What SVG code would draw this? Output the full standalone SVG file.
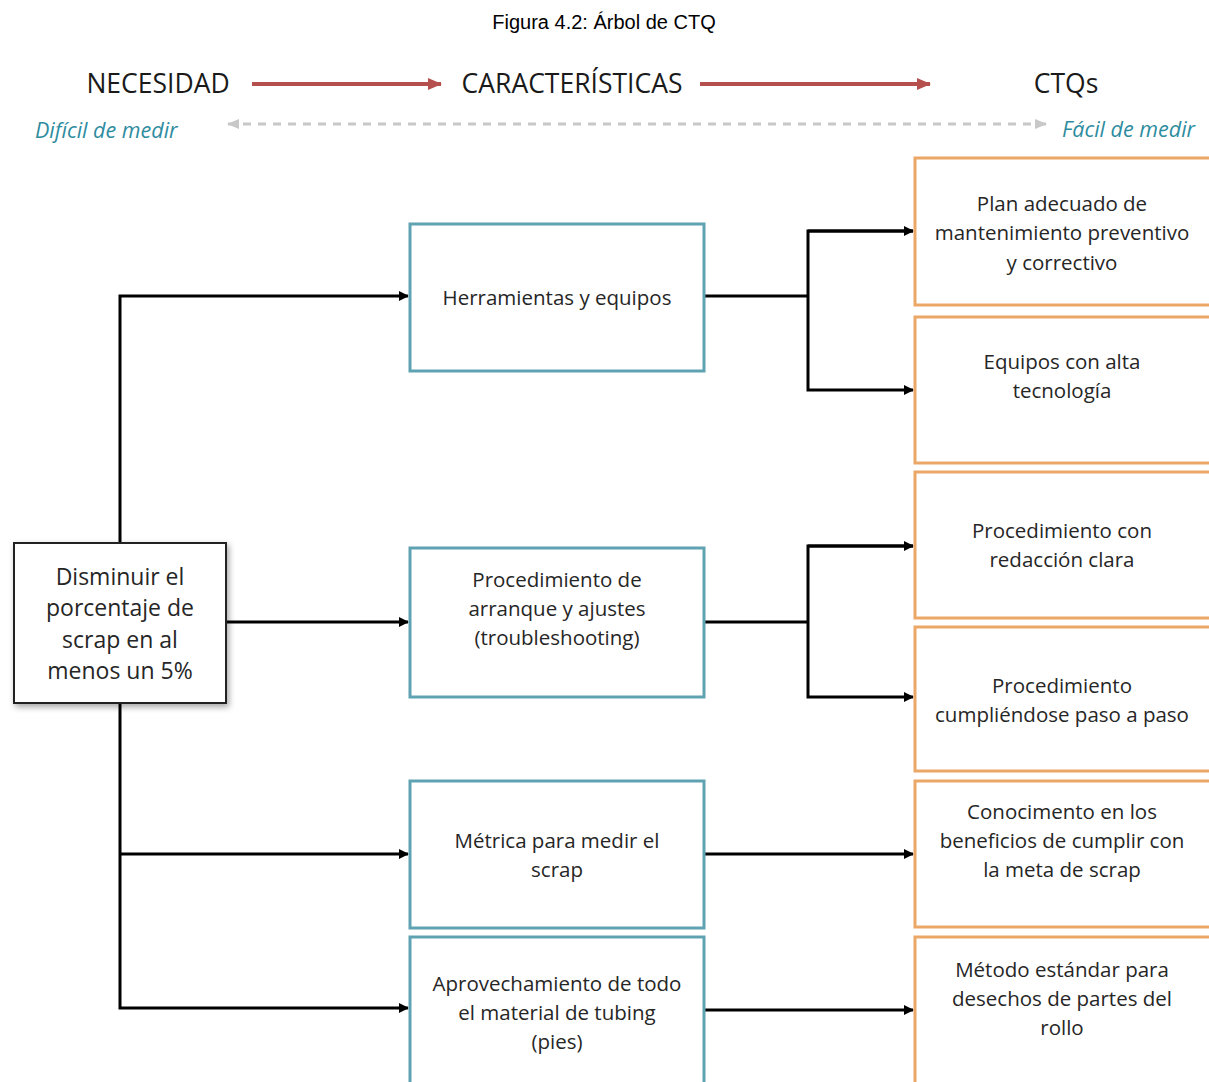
<svg xmlns="http://www.w3.org/2000/svg" width="1209" height="1082" viewBox="0 0 1209 1082">
<style>
.t{font-family:"Open Sans","Noto Sans",sans-serif;font-size:20.5px;fill:#262626;text-anchor:middle}
.big{font-size:23px}
.hd{font-family:"Open Sans","Noto Sans",sans-serif;font-size:26.5px;fill:#1a1a1a;text-anchor:middle}
.it{font-family:"Open Sans","Noto Sans",sans-serif;font-size:21.5px;font-style:italic;fill:#2e8ca0}
.mid{fill:#fff;stroke:#5fa3b3;stroke-width:3}
.ctq{fill:#fff;stroke:#eba766;stroke-width:3}
.ln{fill:none;stroke:#000;stroke-width:3}
</style>
<defs>
<marker id="ah" markerWidth="10" markerHeight="10" refX="9" refY="5" orient="auto" markerUnits="userSpaceOnUse">
<path d="M0,0 L10,5 L0,10 z" fill="#000"/>
</marker>
<marker id="rh" markerWidth="14" markerHeight="14" refX="13" refY="7" orient="auto" markerUnits="userSpaceOnUse">
<path d="M0,1 L14,7 L0,13 z" fill="#b5504f"/>
</marker>
<marker id="gh" markerWidth="12" markerHeight="12" refX="11" refY="6" orient="auto-start-reverse" markerUnits="userSpaceOnUse">
<path d="M0,1 L12,6 L0,11 z" fill="#c8c8c8"/>
</marker>
<filter id="sh" x="-20%" y="-20%" width="140%" height="140%">
<feDropShadow dx="2" dy="3" stdDeviation="3" flood-color="#000" flood-opacity="0.35"/>
</filter>
</defs>
<rect width="1209" height="1082" fill="#fff"/>
<text x="604" y="29" style="font-family:'Liberation Sans',Arial,sans-serif;font-size:20px;fill:#000;text-anchor:middle">Figura 4.2: Árbol de CTQ</text>

<g id="header">
<text class="hd" x="158" y="93">NECESIDAD</text>
<text class="hd" x="572" y="93">CARACTERÍSTICAS</text>
<text class="hd" x="1066" y="93">CTQs</text>
<line x1="252" y1="84" x2="441" y2="84" stroke="#b5504f" stroke-width="4" marker-end="url(#rh)"/>
<line x1="700" y1="84" x2="930" y2="84" stroke="#b5504f" stroke-width="4" marker-end="url(#rh)"/>
<line x1="228" y1="124" x2="1046" y2="124" stroke="#c8c8c8" stroke-width="3" stroke-dasharray="8,7" marker-start="url(#gh)" marker-end="url(#gh)"/>
<text class="it" x="35" y="138">Difícil de medir</text>
<text class="it" x="1062" y="137">Fácil  de medir</text>
</g>

<g id="connectors">
<path class="ln" d="M120,543 V296 H408" marker-end="url(#ah)"/>
<path class="ln" d="M226,622 H408" marker-end="url(#ah)"/>
<path class="ln" d="M120,703 V1008 H408" marker-end="url(#ah)"/>
<path class="ln" d="M120,854 H408" marker-end="url(#ah)"/>
<path class="ln" d="M704,296 H808"/>
<path class="ln" d="M913,231 H808 V390 H913" marker-end="url(#ah)"/>
<path class="ln" d="M808,231 H913" marker-end="url(#ah)"/>
<path class="ln" d="M704,622 H808"/>
<path class="ln" d="M913,546 H808 V697 H913" marker-end="url(#ah)"/>
<path class="ln" d="M808,546 H913" marker-end="url(#ah)"/>
<path class="ln" d="M704,854 H913" marker-end="url(#ah)"/>
<path class="ln" d="M704,1010 H913" marker-end="url(#ah)"/>
</g>

<g id="need">
<rect x="14" y="543" width="212" height="160" fill="#fff" stroke="#222" stroke-width="2" filter="url(#sh)"/>
<text class="t big" x="120" y="585">Disminuir el</text>
<text class="t big" x="120" y="616">porcentaje de</text>
<text class="t big" x="120" y="648">scrap en al</text>
<text class="t big" x="120" y="679">menos un 5%</text>
</g>

<g id="c1">
<rect class="mid" x="410" y="224" width="294" height="147"/>
<text class="t" x="557" y="305">Herramientas y equipos</text>
</g>
<g id="c2">
<rect class="mid" x="410" y="548" width="294" height="149"/>
<text class="t" x="557" y="587">Procedimiento de</text>
<text class="t" x="557" y="616">arranque y ajustes</text>
<text class="t" x="557" y="645">(troubleshooting)</text>
</g>
<g id="c3">
<rect class="mid" x="410" y="781" width="294" height="147"/>
<text class="t" x="557" y="848">Métrica para medir el</text>
<text class="t" x="557" y="877">scrap</text>
</g>
<g id="c4">
<rect class="mid" x="410" y="937" width="294" height="150"/>
<text class="t" x="557" y="991">Aprovechamiento de todo</text>
<text class="t" x="557" y="1020">el material de tubing</text>
<text class="t" x="557" y="1049">(pies)</text>
</g>

<g id="q1">
<rect class="ctq" x="915" y="158" width="296" height="147"/>
<text class="t" x="1062" y="211">Plan adecuado de</text>
<text class="t" x="1062" y="240">mantenimiento preventivo</text>
<text class="t" x="1062" y="270">y correctivo</text>
</g>
<g id="q2">
<rect class="ctq" x="915" y="317" width="296" height="146"/>
<text class="t" x="1062" y="369">Equipos con alta</text>
<text class="t" x="1062" y="398">tecnología</text>
</g>
<g id="q3">
<rect class="ctq" x="915" y="472" width="296" height="146"/>
<text class="t" x="1062" y="538">Procedimiento con</text>
<text class="t" x="1062" y="567">redacción clara</text>
</g>
<g id="q4">
<rect class="ctq" x="915" y="627" width="296" height="144"/>
<text class="t" x="1062" y="693">Procedimiento</text>
<text class="t" x="1062" y="722">cumpliéndose paso a paso</text>
</g>
<g id="q5">
<rect class="ctq" x="915" y="781" width="296" height="146"/>
<text class="t" x="1062" y="819">Conocimento en los</text>
<text class="t" x="1062" y="848">beneficios de cumplir con</text>
<text class="t" x="1062" y="877">la meta de scrap</text>
</g>
<g id="q6">
<rect class="ctq" x="915" y="937" width="296" height="150"/>
<text class="t" x="1062" y="977">Método estándar para</text>
<text class="t" x="1062" y="1006">desechos de partes del</text>
<text class="t" x="1062" y="1035">rollo</text>
</g>
</svg>
